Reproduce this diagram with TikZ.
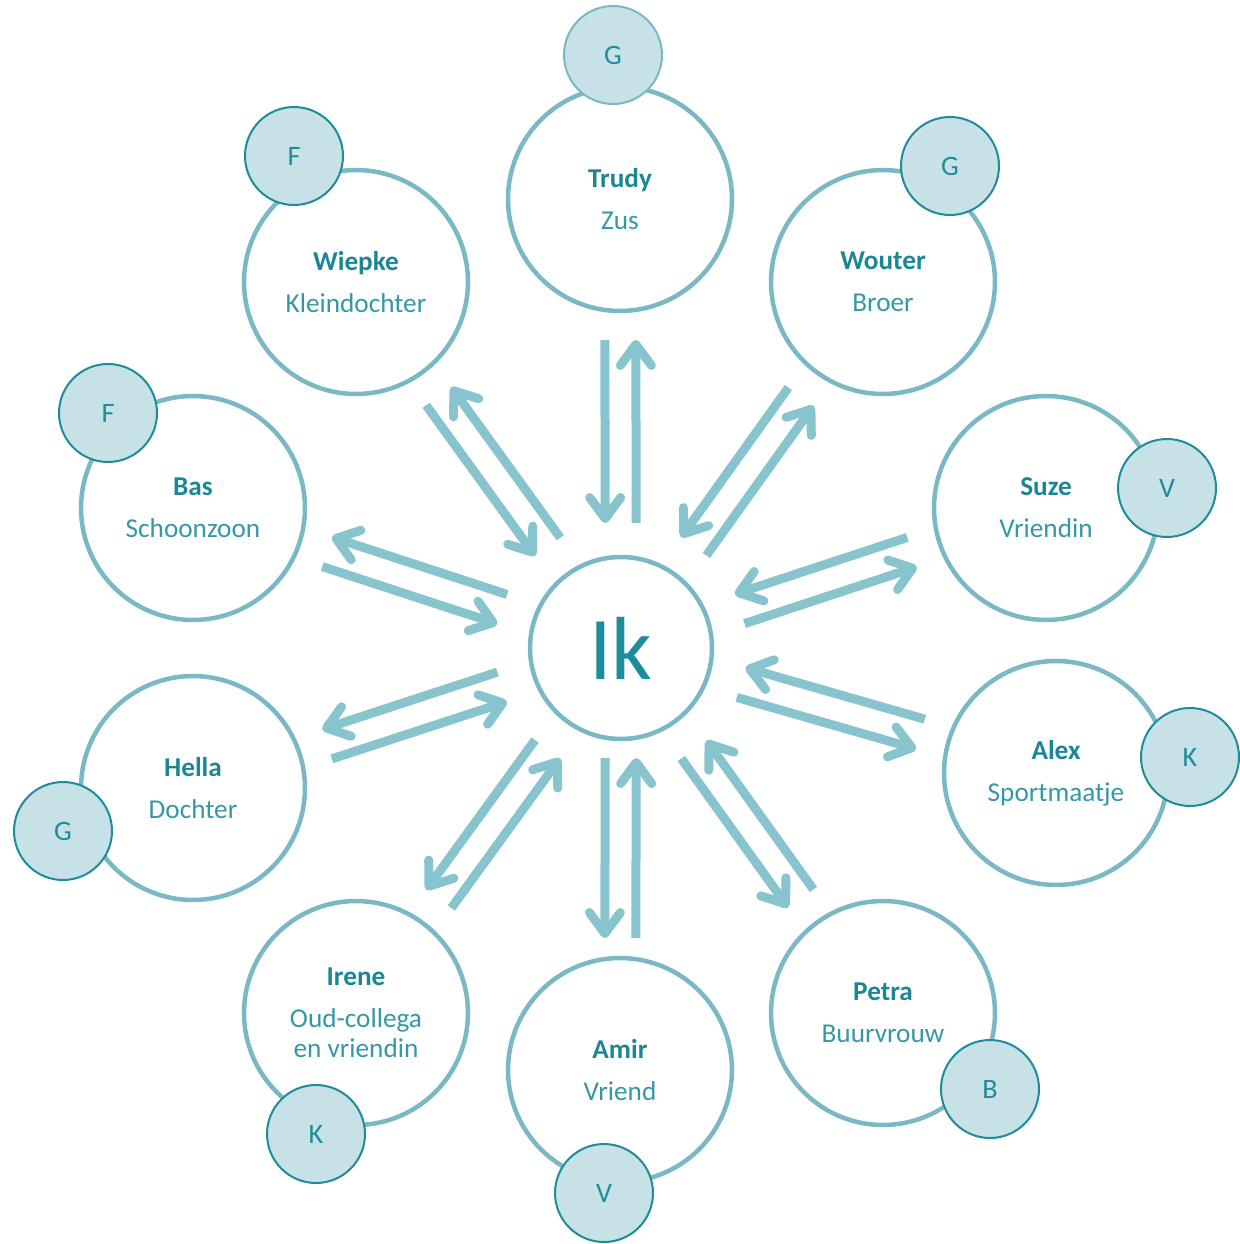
\documentclass[tikz,border=0pt]{standalone}
\usepackage{fontspec}
\setmainfont{Carlito}
\usetikzlibrary{calc,arrows.meta}

\definecolor{ring}{RGB}{122,185,196}
\definecolor{pijlkleur}{RGB}{136,196,206}
\definecolor{badgevul}{RGB}{198,226,230}
\definecolor{badgerand}{RGB}{31,140,156}
\definecolor{naamkleur}{RGB}{27,135,150}
\definecolor{rolkleur}{RGB}{52,152,167}

\tikzstyle{persoon} = [circle,draw=ring,line width=0.09cm,fill=white,minimum size=4.48cm,align=center,text=rolkleur,font=\fontsize{15.5}{17}\selectfont]
\tikzstyle{ikrond} = [circle,draw=ring,line width=0.09cm,fill=white,minimum size=3.64cm,text=badgerand,font=\fontsize{51}{51}\selectfont]
\tikzstyle{badge} = [circle,draw=badgerand,line width=0.04cm,fill=badgevul,minimum size=1.96cm,text=badgerand,font=\fontsize{16}{17}\selectfont]
\tikzstyle{pijl} = [line width=0.18cm,pijlkleur,shorten <=2.5cm,shorten >=2.82cm]
\tikzstyle{heen} = [-{Straight Barb[length=0.42cm,width=0.62cm,line width=0.18cm,round]}]
\tikzstyle{terug} = [{Straight Barb[length=0.42cm,width=0.62cm,line width=0.18cm,round]}-]

\newcommand{\naam}[1]{{\bfseries\color{naamkleur}#1}\\[6.8pt]}

\begin{document}
\begin{tikzpicture}[x=0.02cm,y=-0.02cm]

\fill [white] (0,0) rectangle (1229,1244);

% Ik in het midden
\node [ikrond] (ik) at (621,648) {Ik};

% Netwerk rondom
\node [persoon] (trudy) at (620,199) {\naam{Trudy}Zus};
\node [persoon] (wouter) at (883,282) {\naam{Wouter}Broer};
\node [persoon] (suze) at (1046,508) {\naam{Suze}Vriendin};
\node [persoon] (alex) at (1056,773) {\naam{Alex}Sportmaatje};
\node [persoon] (petra) at (883,1013) {\naam{Petra}Buurvrouw};
\node [persoon] (amir) at (620,1070) {\naam{Amir}Vriend};
\node [persoon] (irene) at (356,1013) {\naam{Irene}Oud-collega\\en vriendin};
\node [persoon] (hella) at (193,788) {\naam{Hella}Dochter};
\node [persoon] (bas) at (193,508) {\naam{Bas}Schoonzoon};
\node [persoon] (wiepke) at (356,282) {\naam{Wiepke}Kleindochter};

% Letters
\node [badge,draw=ring] (gtrudy) at (613,55) {G};
\node [badge] (gwouter) at (950,166) {G};
\node [badge] (vsuze) at (1167,488) {V};
\node [badge] (kalex) at (1190,757) {K};
\node [badge] (bpetra) at (990,1089) {B};
\node [badge] (vamir) at (604,1193) {V};
\node [badge] (kirene) at (316,1134) {K};
\node [badge] (ghella) at (63,831) {G};
\node [badge] (fbas) at (108,413) {F};
\node [badge] (fwiepke) at (294,156) {F};

% Pijlen heen en terug
\draw [pijl,heen] ($(ik)!0.31cm!-90:(trudy)$) -- ($(trudy)!0.31cm!90:(ik)$);
\draw [pijl,terug] ($(ik)!0.31cm!90:(trudy)$) -- ($(trudy)!0.31cm!-90:(ik)$);
\draw [pijl,heen] ($(ik)!0.31cm!-90:(wouter)$) -- ($(wouter)!0.31cm!90:(ik)$);
\draw [pijl,terug] ($(ik)!0.31cm!90:(wouter)$) -- ($(wouter)!0.31cm!-90:(ik)$);
\draw [pijl,heen] ($(ik)!0.31cm!-90:(suze)$) -- ($(suze)!0.31cm!90:(ik)$);
\draw [pijl,terug] ($(ik)!0.31cm!90:(suze)$) -- ($(suze)!0.31cm!-90:(ik)$);
\draw [pijl,heen] ($(ik)!0.31cm!-90:(alex)$) -- ($(alex)!0.31cm!90:(ik)$);
\draw [pijl,terug] ($(ik)!0.31cm!90:(alex)$) -- ($(alex)!0.31cm!-90:(ik)$);
\draw [pijl,heen] ($(ik)!0.31cm!-90:(petra)$) -- ($(petra)!0.31cm!90:(ik)$);
\draw [pijl,terug] ($(ik)!0.31cm!90:(petra)$) -- ($(petra)!0.31cm!-90:(ik)$);
% Amir staat dichterbij
\draw [pijl,heen,shorten <=2.2cm,shorten >=2.64cm] ($(ik)!0.31cm!-90:(amir)$) -- ($(amir)!0.31cm!90:(ik)$);
\draw [pijl,terug,shorten <=2.2cm,shorten >=2.64cm] ($(ik)!0.31cm!90:(amir)$) -- ($(amir)!0.31cm!-90:(ik)$);
\draw [pijl,heen] ($(ik)!0.31cm!-90:(irene)$) -- ($(irene)!0.31cm!90:(ik)$);
\draw [pijl,terug] ($(ik)!0.31cm!90:(irene)$) -- ($(irene)!0.31cm!-90:(ik)$);
\draw [pijl,heen] ($(ik)!0.31cm!-90:(hella)$) -- ($(hella)!0.31cm!90:(ik)$);
\draw [pijl,terug] ($(ik)!0.31cm!90:(hella)$) -- ($(hella)!0.31cm!-90:(ik)$);
\draw [pijl,heen] ($(ik)!0.31cm!-90:(bas)$) -- ($(bas)!0.31cm!90:(ik)$);
\draw [pijl,terug] ($(ik)!0.31cm!90:(bas)$) -- ($(bas)!0.31cm!-90:(ik)$);
\draw [pijl,heen] ($(ik)!0.31cm!-90:(wiepke)$) -- ($(wiepke)!0.31cm!90:(ik)$);
\draw [pijl,terug] ($(ik)!0.31cm!90:(wiepke)$) -- ($(wiepke)!0.31cm!-90:(ik)$);

\end{tikzpicture}
\end{document}
